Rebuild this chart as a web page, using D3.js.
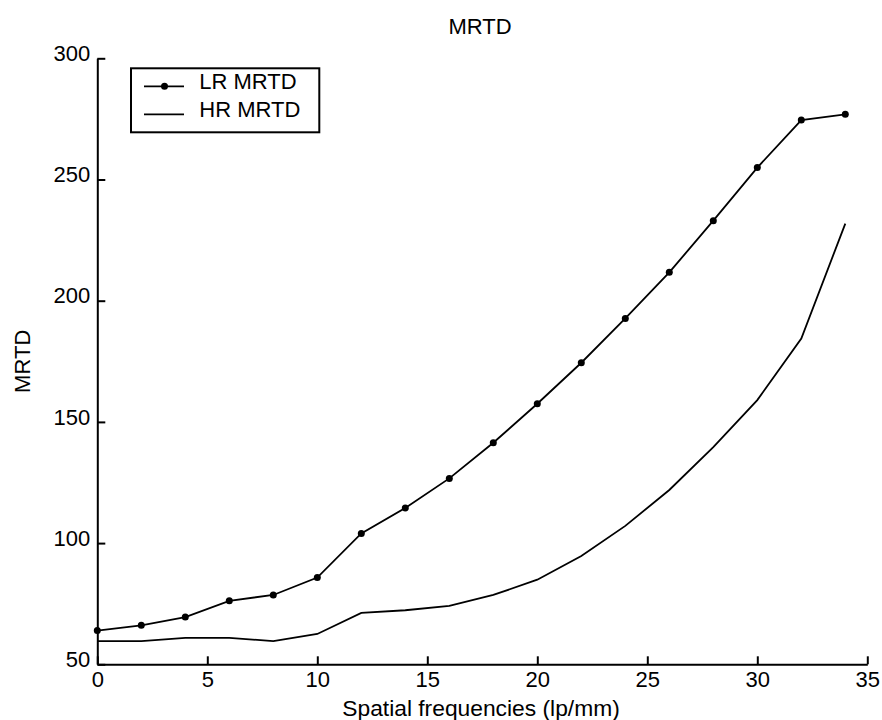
<!DOCTYPE html>
<html>
<head>
<meta charset="utf-8">
<script src="https://cdn.jsdelivr.net/npm/d3@7.9.0/dist/d3.min.js"></script>
<style>
  body { margin: 0; background: #fff; }
  svg { display: block; font-family: "Liberation Sans", Arial, sans-serif; }
</style>
</head>
<body>
<svg id="chart" width="882" height="720"></svg>
<script>
// spatial frequency (lp/mm)
const freqs = [0, 2, 4, 6, 8, 10, 12, 14, 16, 18, 20, 22, 24, 26, 28, 30, 32, 34];
// MRTD values
const lrMrtd = [63.9, 66.1, 69.5, 76.2, 78.6, 85.8, 104.0, 114.5, 126.7, 141.4, 157.5, 174.4, 192.7, 211.7, 233.0, 254.9, 274.5, 276.9];
const hrMrtd = [59.6, 59.6, 60.9, 60.9, 59.6, 62.5, 71.2, 72.3, 74.1, 78.6, 84.9, 94.7, 107.1, 121.9, 139.6, 159.0, 184.4, 231.8];
const xTicks = [0, 5, 10, 15, 20, 25, 30, 35];
const yTicks = [50, 100, 150, 200, 250, 300];
const seriesNames = ['LR MRTD', 'HR MRTD'];

const svg = d3.select('#chart');
const plotLeft = 97.3, plotRight = 867.3, plotTop = 58.3, plotBottom = 664.3;
const fontSize = 22;

const x = d3.scaleLinear().domain([0, 35]).range([plotLeft, plotRight]);
const y = d3.scaleLinear().domain([50, 300]).range([plotBottom, plotTop]);

// axes, ticks pointing inward
const xAxis = svg.append('g')
  .attr('transform', `translate(0,${plotBottom})`)
  .call(d3.axisBottom(x).tickValues(xTicks).tickSizeInner(-8).tickSizeOuter(0).tickPadding(7));
const yAxis = svg.append('g')
  .attr('transform', `translate(${plotLeft},0)`)
  .call(d3.axisLeft(y).tickValues(yTicks).tickSizeInner(-8).tickSizeOuter(0).tickPadding(7));

[xAxis, yAxis].forEach(g => {
  g.attr('font-size', fontSize).attr('font-family', null);
  g.selectAll('path, line').attr('stroke', '#000').attr('stroke-width', 2);
  g.selectAll('text').attr('fill', '#000');
});
yAxis.selectAll('text').attr('dy', '0.1em');

// lines
const line = d3.line()
  .x((d, i) => x(freqs[i]))
  .y(d => y(d));

svg.append('path')
  .datum(lrMrtd)
  .attr('d', line)
  .attr('fill', 'none')
  .attr('stroke', '#000')
  .attr('stroke-width', 1.8);

svg.append('path')
  .datum(hrMrtd)
  .attr('d', line)
  .attr('fill', 'none')
  .attr('stroke', '#000')
  .attr('stroke-width', 1.8);

svg.append('g')
  .selectAll('circle')
  .data(lrMrtd)
  .enter()
  .append('circle')
    .attr('cx', (d, i) => x(freqs[i]))
    .attr('cy', d => y(d))
    .attr('r', 3.5)
    .attr('fill', '#000');

// title and axis labels
svg.append('text')
  .attr('x', 480)
  .attr('y', 34)
  .attr('text-anchor', 'middle')
  .attr('font-size', fontSize)
  .text('MRTD');

svg.append('text')
  .attr('x', 481)
  .attr('y', 716)
  .attr('text-anchor', 'middle')
  .attr('font-size', 22.8)
  .text('Spatial frequencies (lp/mm)');

svg.append('text')
  .attr('transform', `translate(29.5,${(plotTop + plotBottom) / 2}) rotate(-90)`)
  .attr('text-anchor', 'middle')
  .attr('font-size', fontSize)
  .text('MRTD');

// legend
const legend = svg.append('g');
legend.append('rect')
  .attr('x', 131)
  .attr('y', 68.3)
  .attr('width', 188.3)
  .attr('height', 64)
  .attr('fill', '#fff')
  .attr('stroke', '#000')
  .attr('stroke-width', 2);

const rowY = [86.3, 114.3];
seriesNames.forEach((name, i) => {
  legend.append('line')
    .attr('x1', 144).attr('x2', 184)
    .attr('y1', rowY[i]).attr('y2', rowY[i])
    .attr('stroke', '#000')
    .attr('stroke-width', 1.8);
  if (i === 0) {
    legend.append('circle')
      .attr('cx', 164.5).attr('cy', rowY[i])
      .attr('r', 3.5)
      .attr('fill', '#000');
  }
  legend.append('text')
    .attr('x', 199.3)
    .attr('y', rowY[i] + 3)
    .attr('font-size', fontSize)
    .text(name);
});
</script>
</body>
</html>
